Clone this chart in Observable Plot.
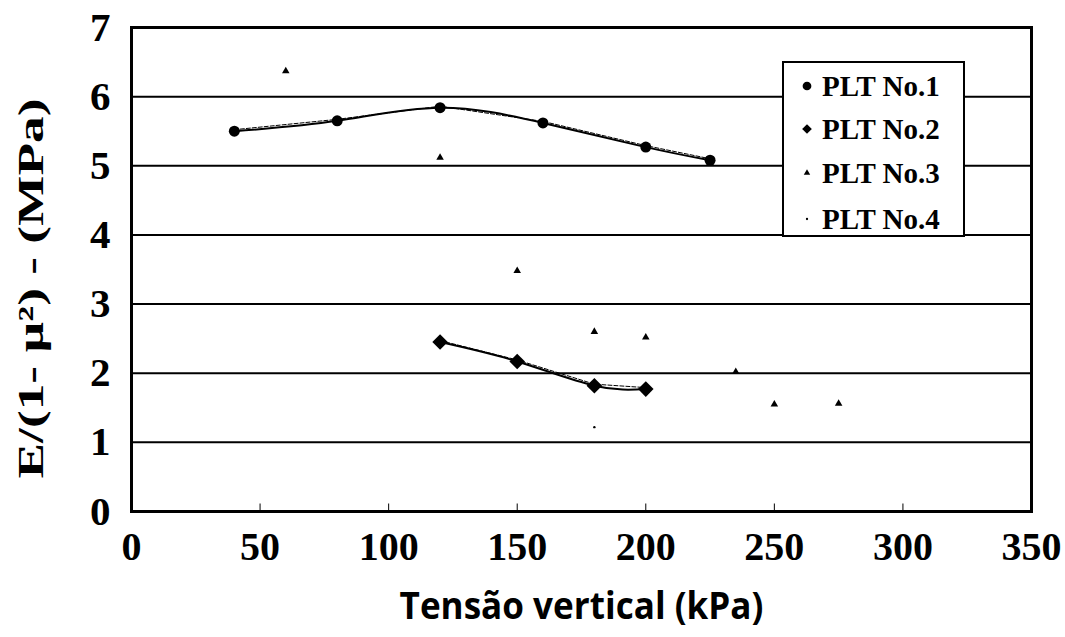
<!DOCTYPE html>
<html>
<head>
<meta charset="utf-8">
<script src="https://cdn.jsdelivr.net/npm/d3@7"></script>
<script src="https://cdn.jsdelivr.net/npm/@observablehq/plot@0.6"></script>
<style>
  body { margin: 0; background: #fff; }
  #chart { position: relative; width: 1065px; height: 637px; }
  .legend {
    position: absolute; left: 782px; top: 61px; width: 179px; height: 172px;
    border: 2px solid #000; background: #fff;
    font: bold 29px "Liberation Serif", "Times New Roman", serif; color: #000;
  }
  .legend .row { position: absolute; left: 0; height: 30px; display: flex; align-items: center; }
  .legend svg { width: 30px; height: 30px; margin-left: 8px; }
</style>
</head>
<body>
<div id="chart"></div>
<script>
// Vertical stress (kPa) and E/(1-µ²) (MPa) for each plate load test
const stress1 = [40, 80, 120, 160, 200, 225];
const plt1    = [5.50, 5.65, 5.84, 5.62, 5.27, 5.08];
const stress2 = [120, 150, 180, 200];
const plt2    = [2.45, 2.17, 1.82, 1.77];
const stress3 = [60, 120, 150, 180, 200, 235, 250, 275];
const plt3    = [6.37, 5.12, 3.48, 2.60, 2.52, 2.02, 1.55, 1.56];
const stress4 = [180];
const plt4    = [1.22];

const seriesNames = ["PLT No.1", "PLT No.2", "PLT No.3", "PLT No.4"];
const xTicks = [0, 50, 100, 150, 200, 250, 300, 350];
const yTicks = [0, 1, 2, 3, 4, 5, 6, 7];
const xTitle = "Tensão vertical (kPa)";
const yTitle = "E/(1- µ²) - (MPa)";

const serif = '"Liberation Serif", "Times New Roman", serif';
const sans = '"Open Sans", "Noto Sans", sans-serif';

const rows = (xs, ys, name) => xs.map((x, i) => ({x, y: ys[i], name}));
const s1 = rows(stress1, plt1, seriesNames[0]);
const s2 = rows(stress2, plt2, seriesNames[1]);
const s3 = rows(stress3, plt3, seriesNames[2]);
const s4 = rows(stress4, plt4, seriesNames[3]);

// short upward tick drawn at each x-axis position
const tickUp = {draw(ctx) { ctx.moveTo(0, 0); ctx.lineTo(0, -8); }};

const plot = Plot.plot({
  width: 1065,
  height: 637,
  marginLeft: 131,
  marginRight: 34,
  marginTop: 27,
  marginBottom: 126,
  x: {domain: [0, 350]},
  y: {domain: [0, 7]},
  style: {background: "#fff", color: "#000"},
  marks: [
    Plot.ruleY(yTicks.slice(1, -1), {stroke: "#000", strokeWidth: 2}),
    Plot.dot(xTicks.slice(1, -1), {x: d => d, y: 0, symbol: tickUp, stroke: "#000", strokeWidth: 1, fill: "none"}),
    Plot.axisY({ticks: yTicks, tickFormat: d => String(d), tickSize: 0, tickPadding: 21, label: null, fontSize: 41}),
    Plot.axisX({ticks: xTicks, tickFormat: d => String(d), tickSize: 0, tickPadding: 20, label: null, fontSize: 40}),
    Plot.frame({stroke: "#000", strokeWidth: 3}),
    // fitted curves and their thin companion traces
    Plot.line(s1, {x: "x", y: "y", curve: "natural", stroke: "#000", strokeWidth: 2}),
    Plot.line(s1, {x: "x", y: "y", stroke: "#000", strokeWidth: 1, strokeDasharray: "4,2", dy: -1.5}),
    Plot.line(s2, {x: "x", y: "y", curve: "natural", stroke: "#000", strokeWidth: 2}),
    Plot.line(s2, {x: "x", y: "y", stroke: "#000", strokeWidth: 1, strokeDasharray: "4,2", dy: -1.5}),
    Plot.dot(s1, {x: "x", y: "y", r: 5.5, fill: "#000"}),
    Plot.dot(s2, {x: "x", y: "y", symbol: "diamond2", r: 7, fill: "#000"}),
    Plot.dot(s3, {x: "x", y: "y", symbol: "triangle", r: 2.8, fill: "#000"}),
    Plot.dot(s4, {x: "x", y: "y", r: 1.2, fill: "#000"}),
    Plot.text([yTitle], {text: d => d, frameAnchor: "left", textAnchor: "middle", rotate: -90,
                         dx: -100, dy: 19, fontSize: 36}),
    Plot.text([xTitle], {text: d => d, frameAnchor: "bottom", dy: 107, fontSize: 38})
  ]
});

const chart = document.getElementById("chart");
chart.appendChild(plot);

// typography: bold serif throughout, sans for the horizontal axis title;
// both axis titles are stretched along their length to their drawn span
const svg = d3.select(plot);
svg.selectAll("text").style("font-family", serif).style("font-weight", "bold");
function stretch(label, span, family) {
  svg.selectAll("text").filter(function() { return this.textContent === label; })
    .each(function() {
      if (family) this.style.fontFamily = family;
      const k = span / this.getComputedTextLength();
      const t = this.getAttribute("transform") || "";
      this.setAttribute("transform", `${t} scale(${k},1)`);
    });
}
stretch(yTitle, 380);
stretch(xTitle, 364, sans);

// legend box in the upper right of the plot area
const legendSymbols = [
  {type: d3.symbolCircle, size: 60},
  {type: d3.symbolDiamond2, size: 60},
  {type: d3.symbolTriangle, size: 18},
  {type: d3.symbolCircle, size: 4}
];
const legend = d3.select(chart).append("div").attr("class", "legend");
const rowTops = [8, 51, 95, 141];
seriesNames.forEach((name, i) => {
  const row = legend.append("div").attr("class", "row").style("top", rowTops[i] + "px");
  const sym = row.append("svg").attr("viewBox", "-15 -15 30 30");
  sym.append("path").attr("d", d3.symbol(legendSymbols[i].type, legendSymbols[i].size)()).attr("fill", "#000");
  row.append("span").text(name);
});
</script>
</body>
</html>
